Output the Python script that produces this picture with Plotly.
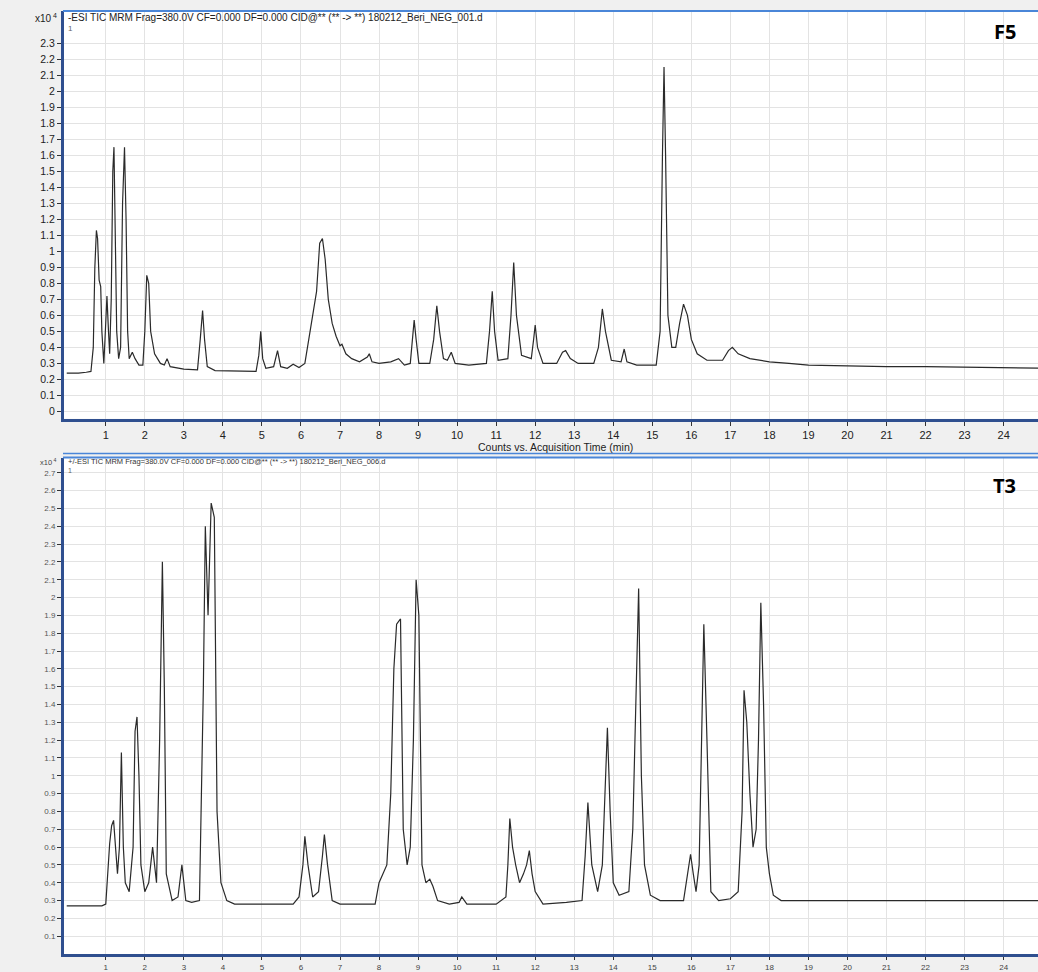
import plotly.graph_objects as go

# ---- data (units of x10^4 counts) ----
f5_time = [0.0, 0.3, 0.5, 0.62, 0.68, 0.72, 0.76, 0.79, 0.83, 0.87, 0.9, 0.95, 0.98, 1.03, 1.07, 1.1,
           1.14, 1.18, 1.21, 1.24, 1.28, 1.33, 1.38, 1.43, 1.48, 1.52, 1.56, 1.6, 1.68, 1.75, 1.85, 1.95,
           2.0, 2.05, 2.1, 2.15, 2.25, 2.4, 2.5, 2.57, 2.65, 3.0, 3.35, 3.42, 3.48, 3.53, 3.6, 3.8, 4.5,
           4.85, 4.92, 4.97, 5.02, 5.1, 5.3, 5.4, 5.48, 5.65, 5.8, 5.95, 6.1, 6.2, 6.3, 6.4, 6.48, 6.55,
           6.62, 6.7, 6.8, 6.9, 7.0, 7.05, 7.15, 7.3, 7.5, 7.7, 7.75, 7.82, 8.0, 8.3, 8.5, 8.65, 8.8, 8.85,
           8.9, 8.95, 9.02, 9.3, 9.4, 9.48, 9.55, 9.65, 9.75, 9.85, 9.95, 10.3, 10.75, 10.83, 10.9, 10.96,
           11.05, 11.3, 11.38, 11.45, 11.52, 11.65, 11.9, 11.96, 12.0, 12.06, 12.2, 12.55, 12.7, 12.78,
           12.9, 13.1, 13.5, 13.62, 13.72, 13.8, 13.95, 14.2, 14.28, 14.35, 14.6, 15.1, 15.2, 15.26, 15.3,
           15.34, 15.4, 15.5, 15.6, 15.7, 15.8, 15.9, 16.0, 16.15, 16.4, 16.8, 16.95, 17.05, 17.2, 17.5,
           18.0, 18.5, 19.0, 20.0, 21.0, 22.0, 23.0, 24.0, 24.9]
f5_counts = [0.24, 0.24, 0.245, 0.25, 0.4, 0.9, 1.13, 1.08, 0.82, 0.78, 0.5, 0.3, 0.45, 0.72, 0.5, 0.36,
             0.7, 1.5, 1.65, 1.2, 0.5, 0.33, 0.4, 1.3, 1.65, 1.2, 0.5, 0.33, 0.37, 0.33, 0.29, 0.29,
             0.5, 0.85, 0.8, 0.5, 0.36, 0.3, 0.29, 0.33, 0.28, 0.265, 0.26, 0.45, 0.63, 0.45, 0.28, 0.255, 0.25,
             0.25, 0.35, 0.5, 0.33, 0.27, 0.28, 0.38, 0.28, 0.27, 0.295, 0.275, 0.3, 0.45, 0.6, 0.75, 1.05, 1.08,
             0.95, 0.7, 0.55, 0.47, 0.41, 0.42, 0.36, 0.33, 0.31, 0.34, 0.36, 0.31, 0.3, 0.31, 0.33, 0.29, 0.3, 0.45,
             0.57, 0.45, 0.3, 0.3, 0.45, 0.66, 0.5, 0.33, 0.32, 0.37, 0.3, 0.29, 0.3, 0.5, 0.75, 0.5,
             0.32, 0.33, 0.6, 0.93, 0.6, 0.35, 0.33, 0.45, 0.54, 0.4, 0.3, 0.3, 0.37, 0.38,
             0.33, 0.3, 0.3, 0.4, 0.64, 0.5, 0.32, 0.31, 0.39, 0.31, 0.29, 0.29, 0.5, 1.6, 2.15,
             1.6, 0.6, 0.4, 0.4, 0.55, 0.67, 0.6, 0.45, 0.36, 0.32, 0.32, 0.38, 0.4, 0.36, 0.33,
             0.31, 0.3, 0.29, 0.285, 0.28, 0.28, 0.275, 0.27, 0.27]

t3_time = [0.0, 0.5, 0.9, 1.0, 1.05, 1.1, 1.15, 1.2, 1.25, 1.3, 1.35, 1.4, 1.45, 1.5, 1.6, 1.7, 1.75,
           1.8, 1.85, 1.9, 2.0, 2.1, 2.2, 2.3, 2.38, 2.45, 2.5, 2.55, 2.7, 2.85, 2.95, 3.05, 3.2, 3.4,
           3.5, 3.55, 3.62, 3.7, 3.78, 3.85, 3.95, 4.1, 4.3, 5.0, 5.8, 5.95, 6.05, 6.1, 6.18, 6.3, 6.45,
           6.55, 6.6, 6.68, 6.8, 7.0, 7.9, 8.0, 8.2, 8.3, 8.38, 8.45, 8.55, 8.62, 8.72, 8.8, 8.88, 8.95,
           9.02, 9.1, 9.2, 9.3, 9.38, 9.5, 9.8, 10.05, 10.12, 10.25, 11.0, 11.25, 11.3, 11.35, 11.42, 11.5,
           11.6, 11.7, 11.78, 11.85, 11.92, 12.0, 12.2, 12.8, 13.2, 13.28, 13.35, 13.45, 13.6, 13.72, 13.78,
           13.85, 13.92, 14.0, 14.15, 14.4, 14.5, 14.58, 14.65, 14.72, 14.8, 14.95, 15.2, 15.8, 15.9, 15.98,
           16.05, 16.12, 16.2, 16.27, 16.32, 16.4, 16.5, 16.7, 17.0, 17.2, 17.3, 17.35, 17.42, 17.5, 17.58,
           17.66, 17.72, 17.78, 17.85, 17.92, 18.0, 18.1, 18.3, 18.6, 19.5, 20.5, 21.5, 22.5, 23.5, 24.9]
t3_counts = [0.27, 0.27, 0.27, 0.28, 0.48, 0.62, 0.72, 0.75, 0.6, 0.45, 0.6, 1.13, 0.6, 0.4, 0.35, 0.6, 1.25,
             1.33, 1.0, 0.5, 0.35, 0.4, 0.6, 0.4, 1.2, 2.2, 1.5, 0.45, 0.3, 0.32, 0.5, 0.3, 0.29, 0.3,
             1.5, 2.4, 1.9, 2.53, 2.45, 0.8, 0.4, 0.3, 0.28, 0.28, 0.28, 0.32, 0.5, 0.66, 0.5, 0.32, 0.35,
             0.55, 0.67, 0.5, 0.3, 0.28, 0.28, 0.4, 0.5, 0.9, 1.6, 1.85, 1.88, 0.7, 0.5, 0.6, 1.2, 2.1,
             1.9, 0.5, 0.4, 0.42, 0.38, 0.3, 0.28, 0.29, 0.32, 0.28, 0.28, 0.32, 0.5, 0.76, 0.6, 0.5,
             0.4, 0.45, 0.5, 0.58, 0.45, 0.35, 0.28, 0.29, 0.3, 0.55, 0.85, 0.5, 0.35, 0.5, 0.9,
             1.27, 0.8, 0.4, 0.33, 0.35, 0.7, 1.5, 2.05, 1.0, 0.5, 0.33, 0.3, 0.3, 0.45, 0.56,
             0.45, 0.35, 0.5, 1.3, 1.85, 1.2, 0.35, 0.3, 0.31, 0.35, 0.8, 1.48, 1.3, 0.9, 0.6,
             0.7, 1.2, 1.97, 1.4, 0.6, 0.45, 0.33, 0.3, 0.3, 0.3, 0.3, 0.3, 0.3, 0.3, 0.3]

x_ticks = list(range(1, 25))
f5_y_ticks = [round(i * 0.1, 1) for i in range(0, 24)]
t3_y_ticks = [round(i * 0.1, 1) for i in range(1, 28)]

W, H = 1038, 972
def px_x(p): return p / W
def px_y(p): return 1 - p / H

fig = go.Figure()
fig.add_trace(go.Scatter(x=f5_time, y=f5_counts, mode="lines",
                         line=dict(color="#2a2a2a", width=1.2), xaxis="x", yaxis="y",
                         showlegend=False, hoverinfo="skip"))
fig.add_trace(go.Scatter(x=t3_time, y=t3_counts, mode="lines",
                         line=dict(color="#2a2a2a", width=1.2), xaxis="x2", yaxis="y2",
                         showlegend=False, hoverinfo="skip"))

grid = "#e3e3e3"
axis_blue = "#2f4f8f"
common_x = dict(range=[-0.07, 24.88], tickvals=x_ticks, ticktext=[str(v) for v in x_ticks],
                showgrid=True, gridcolor=grid, gridwidth=1, zeroline=False,
                showline=True, linecolor=axis_blue, linewidth=3,
                ticks="outside", tickcolor="#333", tickwidth=1)
common_y = dict(showgrid=True, gridcolor=grid, gridwidth=1, zeroline=False,
                showline=True, linecolor=axis_blue, linewidth=3,
                ticks="outside", ticklen=4, tickcolor="#333", tickwidth=1)

fig.update_layout(
    width=W, height=H,
    margin=dict(l=0, r=0, t=0, b=0),
    paper_bgcolor="#f0f0f0", plot_bgcolor="white",
    xaxis=dict(**common_x, ticklen=4, domain=[px_x(64), 1.0], anchor="y",
               tickfont=dict(family="Liberation Sans", size=11, color="#222")),
    yaxis=dict(**common_y, domain=[px_y(420), px_y(11)], anchor="x",
               range=[-0.045, 2.5], tickvals=f5_y_ticks,
               ticktext=[("%g" % v) for v in f5_y_ticks],
               tickfont=dict(family="Liberation Sans", size=10.5, color="#222")),
    xaxis2=dict(**common_x, ticklen=3, domain=[px_x(64), 1.0], anchor="y2",
                tickfont=dict(family="Liberation Sans", size=8, color="#444")),
    yaxis2=dict(**common_y, domain=[px_y(957), px_y(459)], anchor="x2",
                range=[0.0, 2.785], tickvals=t3_y_ticks,
                ticktext=[("%g" % v) for v in t3_y_ticks],
                tickfont=dict(family="Liberation Sans", size=8, color="#555")),
)

# top frame lines (light blue)
for ytop in (11, 459):
    fig.add_shape(type="line", xref="paper", yref="paper",
                  x0=px_x(63), x1=1.0, y0=px_y(ytop), y1=px_y(ytop),
                  line=dict(color="#4a86d8", width=2))
fig.add_shape(type="line", xref="paper", yref="paper",
              x0=px_x(63), x1=1.0, y0=px_y(455), y1=px_y(455),
              line=dict(color="#4a86d8", width=1.5))

ann = [
    dict(x=px_x(66), y=px_y(18), text="-ESI TIC MRM Frag=380.0V CF=0.000 DF=0.000 CID@** (** -> **) 180212_Beri_NEG_001.d",
         font=dict(family="Liberation Sans", size=10, color="#222"), xanchor="left", yanchor="middle"),
    dict(x=px_x(66), y=px_y(29), text="1", font=dict(family="Liberation Sans", size=8, color="#666"),
         xanchor="left", yanchor="middle"),
    dict(x=px_x(59), y=px_y(18), text="x10<sup> 4</sup>", font=dict(family="Liberation Sans", size=10, color="#222"),
         xanchor="right", yanchor="middle"),
    dict(x=px_x(1018), y=px_y(32), text="<b>F5</b>", font=dict(family="Open Sans", size=20, color="black"),
         xanchor="right", yanchor="middle"),
    dict(x=px_x(555), y=px_y(448), text="Counts vs. Acquisition Time (min)",
         font=dict(family="Liberation Sans", size=10.5, color="#222"), xanchor="center", yanchor="middle"),
    dict(x=px_x(66), y=px_y(463), text="+/-ESI TIC MRM Frag=380.0V CF=0.000 DF=0.000 CID@** (** -> **) 180212_Beri_NEG_006.d",
         font=dict(family="Liberation Sans", size=7.5, color="#333"), xanchor="left", yanchor="middle"),
    dict(x=px_x(66), y=px_y(472), text="1", font=dict(family="Liberation Sans", size=7, color="#666"),
         xanchor="left", yanchor="middle"),
    dict(x=px_x(59), y=px_y(463), text="x10<sup> 4</sup>", font=dict(family="Liberation Sans", size=7.5, color="#444"),
         xanchor="right", yanchor="middle"),
    dict(x=px_x(1018), y=px_y(487), text="<b>T3</b>", font=dict(family="Open Sans", size=20, color="black"),
         xanchor="right", yanchor="middle"),
    dict(x=px_x(555), y=px_y(971), text="Counts vs. Acquisition Time (min)",
         font=dict(family="Liberation Sans", size=8, color="#444"), xanchor="center", yanchor="top"),
]
for a in ann:
    fig.add_annotation(xref="paper", yref="paper", showarrow=False, **a)

fig.write_html("out.html", config={"displayModeBar": False},
               post_script="document.body.style.margin='0';document.body.style.overflow='hidden';")
